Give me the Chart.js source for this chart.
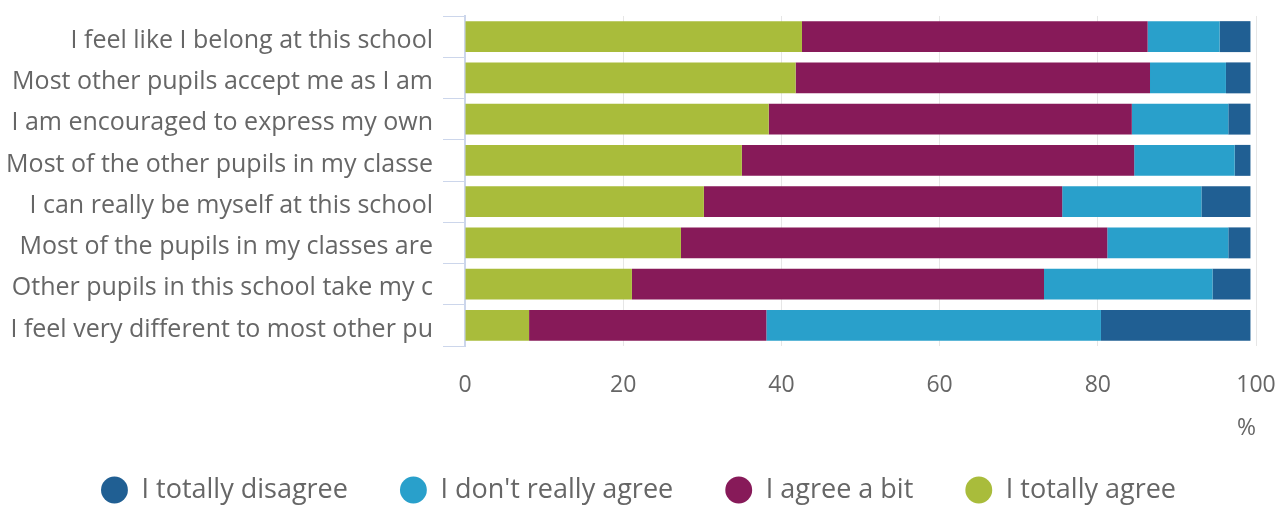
<!DOCTYPE html>
<html>
<head>
<meta charset="utf-8">
<script src="https://cdn.jsdelivr.net/npm/chart.js@4"></script>
<style>
  body { margin: 0; background: #fff; }
  #wrap { width: 1277px; height: 505px; }
</style>
</head>
<body>
<div id="wrap"><canvas id="bars"></canvas></div>
<script>
const questions = [
    'I feel like I belong at this school',
    'Most other pupils accept me as I am',
    'I am encouraged to express my own',
    'Most of the other pupils in my classe',
    'I can really be myself at this school',
    'Most of the pupils in my classes are',
    'Other pupils in this school take my c',
    'I feel very different to most other pu'
];

// percentages per answer, one value per question
const totallyAgree    = [42.6, 41.8, 38.4, 35.0, 30.2, 27.3, 21.1, 8.1];
const agreeBit        = [43.7, 44.8, 45.9, 49.6, 45.3, 53.9, 52.1, 30.0];
const dontReallyAgree = [9.1, 9.6, 12.2, 12.7, 17.6, 15.3, 21.3, 42.3];
const totallyDisagree = [3.9, 3.1, 2.8, 2.0, 6.2, 2.8, 4.8, 18.9];

const xTicks = [0, 20, 40, 60, 80, 100];

const font = 'Open Sans';

// legend needs wide gaps between items but sits close under the axis title
const legendShift = {
    id: 'legendShift',
    afterLayout(chart) {
        chart.legend.top -= 17.5;
        chart.legend.bottom += 25;
    }
};

const ctx = document.getElementById('bars').getContext('2d');
const barChart = new Chart(ctx, {
    type: 'bar',
    data: {
        labels: questions,
        datasets: [
            { label: 'I totally agree', data: totallyAgree, backgroundColor: '#a9bc3b' },
            { label: 'I agree a bit', data: agreeBit, backgroundColor: '#871a59' },
            { label: "I don't really agree", data: dontReallyAgree, backgroundColor: '#29a0cb' },
            { label: 'I totally disagree', data: totallyDisagree, backgroundColor: '#205f93' }
        ]
    },
    plugins: [legendShift],
    options: {
        indexAxis: 'y',
        responsive: true,
        maintainAspectRatio: false,
        animation: false,
        devicePixelRatio: 1,
        layout: { padding: { top: 16, right: 0, bottom: 0, left: 0 } },
        datasets: {
            bar: { categoryPercentage: 1, barPercentage: 0.75, borderWidth: 0 }
        },
        scales: {
            x: {
                stacked: true,
                min: 0,
                max: 100,
                afterBuildTicks: (s) => { s.ticks = xTicks.map(v => ({ value: v })); },
                afterFit: (s) => { s.height = 96; s.paddingLeft = 0; s.paddingRight = 21; },
                grid: { color: '#e6e6e6', drawTicks: false },
                border: { display: false },
                ticks: { color: '#666', font: { family: font, size: 23 }, padding: 26 },
                title: {
                    display: true, text: '%', align: 'end',
                    color: '#666', font: { family: font, size: 23 },
                    padding: 0
                }
            },
            y: {
                stacked: true,
                afterFit: (s) => { s.width = 465; s.paddingTop = 0; s.paddingBottom = 0; },
                grid: { drawOnChartArea: false, color: '#ccd6eb', tickLength: 22 },
                border: { color: '#ccd6eb', width: 2 },
                ticks: { color: '#666', font: { family: font, size: 25 }, padding: 10, labelOffset: 4 }
            }
        },
        plugins: {
            tooltip: { enabled: false },
            legend: {
                position: 'bottom',
                reverse: true,
                maxHeight: 63,
                labels: {
                    usePointStyle: true,
                    pointStyle: 'circle',
                    boxWidth: 27,
                    boxHeight: 19,
                    padding: 52,
                    color: '#666',
                    font: { family: font, size: 27 }
                }
            }
        }
    }
});
</script>
</body>
</html>
